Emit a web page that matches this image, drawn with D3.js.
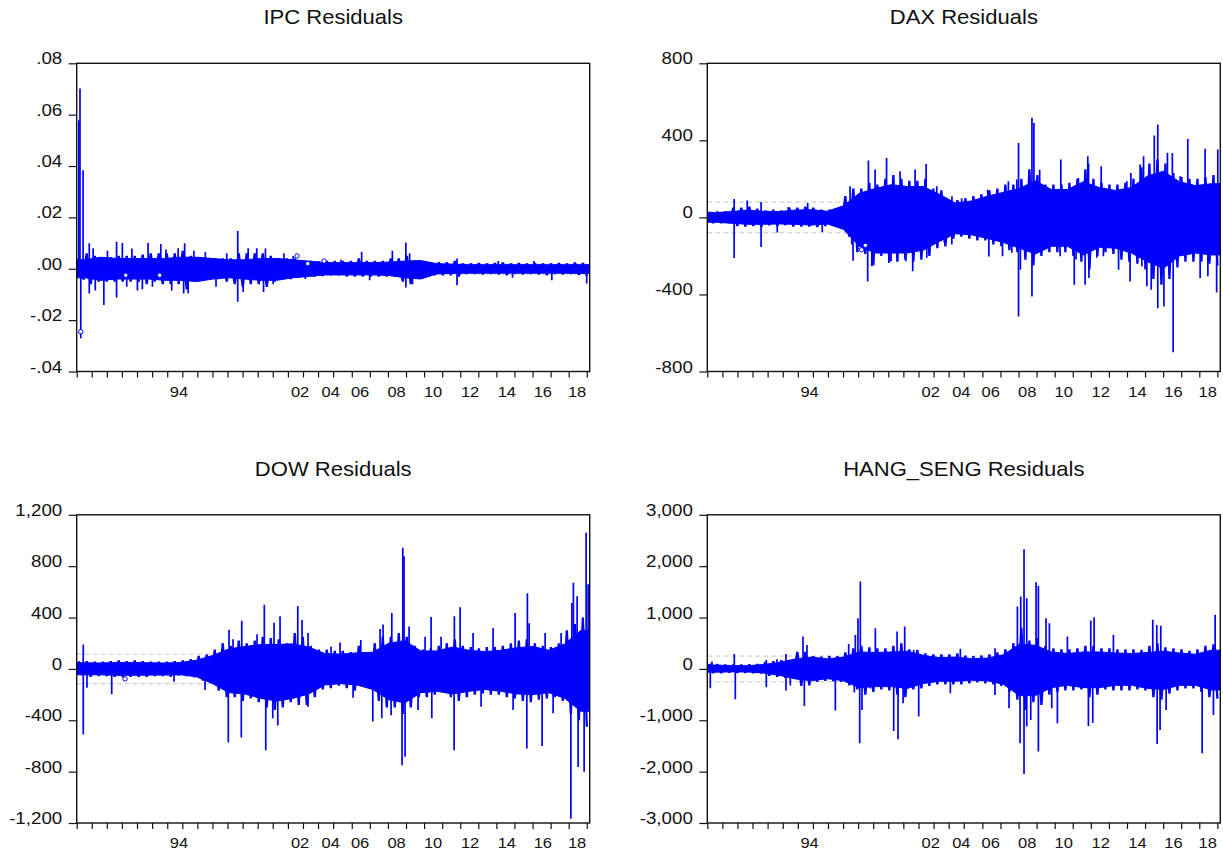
<!DOCTYPE html>
<html><head><meta charset="utf-8">
<script src="https://cdn.jsdelivr.net/npm/d3@7"></script>
<style>
body{margin:0;background:#fff}
svg{display:block;background:#fff}
text{font-family:"Liberation Sans",Arial,Helvetica,sans-serif;fill:#111}
</style>
</head><body>
<svg id="chart" width="1223" height="851"></svg>
<script>
// ---------------- DATA ----------------
const N_OBS = 7180;          // observation index range of the sample
const BIN_OBS = 112;         // width of one outer-envelope bin, in observations
const CORE_BIN_OBS = 224;    // width of one dense-core bin, in observations

// year tick marks (observation index where each year starts, 1987..2018)
const yearTickObs = [0,211,422,633,844,1056,1267,1478,1689,1900,2111,2322,2533,2744,2956,3167,3378,3589,
  3850,4103,4356,4609,4862,5115,5368,5621,5874,6127,6380,6633,6886,7139];
const yearLabels   = ["94","02","04","06","08","10","12","14","16","18"];
const yearLabelObs = [1432,3126,3556,3966,4477,4988,5506,6020,6524,7004];

// ---- IPC ----
const ipcTicks = [-0.04,-0.02,0,0.02,0.04,0.06,0.08];
const ipcTickLabels = ["-.04","-.02",".00",".02",".04",".06",".08"];
const ipcBand = 0.002;
const ipcHi = [0.004,0.006,0.005,0.0045,0.0045,0.005,0.005,0.005,0.0055,0.006,0.006,0.006,0.006,0.007,0.005,0.0045,
  0.004,0.004,0.004,0.004,0.006,0.006,0.006,0.006,0.005,0.004,0.004,0.004,0.003,0.003,0.0028,0.003,
  0.003,0.003,0.003,0.004,0.003,0.003,0.003,0.004,0.004,0.005,0.003,0.0025,0.0025,0.0025,0.0025,0.003,
  0.002,0.002,0.0022,0.002,0.0022,0.0024,0.002,0.0022,0.002,0.0022,0.002,0.002,0.0022,0.002,0.0024,0.0022];
const ipcLo = [-0.004,-0.006,-0.005,-0.005,-0.005,-0.005,-0.005,-0.005,-0.006,-0.005,-0.006,-0.006,-0.006,-0.008,-0.005,-0.0045,
  -0.004,-0.004,-0.005,-0.006,-0.007,-0.006,-0.006,-0.007,-0.005,-0.004,-0.004,-0.0035,-0.003,-0.003,-0.0028,-0.0025,
  -0.0025,-0.003,-0.003,-0.003,-0.003,-0.003,-0.003,-0.003,-0.005,-0.006,-0.003,-0.0025,-0.0025,-0.0025,-0.0025,-0.003,
  -0.002,-0.002,-0.0022,-0.002,-0.0022,-0.0025,-0.002,-0.0022,-0.002,-0.0022,-0.0025,-0.002,-0.0022,-0.002,-0.0024,-0.0028];
const ipcCoreHi = [0.0035,0.0045,0.004,0.004,0.004,0.004,0.0045,0.0045,0.004,0.0035,0.0035,0.004,0.004,0.0035,0.003,0.0024,
  0.0024,0.0024,0.0024,0.0026,0.003,0.0032,0.002,0.0018,0.0016,0.0016,0.0016,0.0016,0.0016,0.0016,0.0016,0.0016];
const ipcCoreLo = [-0.0035,-0.0045,-0.004,-0.004,-0.004,-0.0045,-0.0045,-0.005,-0.004,-0.0035,-0.004,-0.0045,-0.0045,-0.0035,-0.003,-0.0024,
  -0.0024,-0.0024,-0.0024,-0.0026,-0.0035,-0.004,-0.002,-0.0018,-0.0017,-0.0017,-0.0017,-0.0017,-0.0017,-0.0017,-0.0017,-0.0018];
const ipcSpikes = [[30,0.0578],[46,0.0702],[57,-0.0271],[89,0.0384],[100,-0.0044],[176,0.0099],[176,-0.0096],
  [230,0.008],[260,-0.0085],[380,-0.0141],[430,0.007],[558,0.0105],[558,-0.0112],[639,0.010],[700,-0.007],
  [773,0.0079],[850,-0.0085],[919,-0.008],[999,0.010],[1060,-0.007],[1177,0.0096],[1250,0.0075],[1330,-0.0085],
  [1420,0.008],[1497,-0.0096],[1511,0.0099],[1560,-0.0095],[1640,0.007],[1800,0.0065],[1950,-0.007],[2100,0.006],
  [2254,0.0147],[2254,-0.0128],[2330,-0.009],[2400,0.008],[2520,0.008],[2615,-0.009],[2642,0.0079],[2750,-0.006],
  [2900,0.006],[3030,0.005],[3200,-0.004],[3700,0.0035],[3988,0.0066],[4100,-0.0045],[4418,0.007],[4607,0.0102],
  [4607,-0.0073],[4660,0.006],[4700,-0.006],[5323,0.004],[5323,-0.0064],[5900,0.003],[6100,-0.0035],[6400,0.003],
  [6650,-0.0045],[7138,-0.0057]];
const ipcMarkers = [[57,-0.0245],[687,-0.0025],[1161,-0.0025],[3083,0.005],[3234,0.002],[3462,0.003]];

// ---- DAX ----
const daxTicks = [-800,-400,0,400,800];
const daxTickLabels = ["-800","-400","0","400","800"];
const daxBand = 80;
const daxHi = [30,30,30,50,50,55,45,35,40,35,50,50,55,50,40,40,45,110,150,150,180,170,200,220,200,190,190,200,150,140,90,90,
  100,110,120,140,150,170,170,200,250,220,170,170,170,180,200,250,200,180,170,170,180,200,260,280,300,280,230,210,200,200,210,220];
const daxLo = [-30,-30,-30,-45,-47,-45,-50,-40,-45,-40,-47,-47,-47,-50,-45,-40,-50,-100,-180,-190,-250,-200,-230,-230,-220,-230,-220,-200,-160,-150,-110,-100,
  -110,-120,-120,-140,-150,-170,-180,-220,-250,-200,-180,-180,-180,-200,-230,-270,-200,-180,-190,-220,-230,-240,-270,-320,-350,-320,-260,-230,-230,-230,-240,-250];
const daxCoreHi = [25,30,38,32,30,38,40,32,60,125,150,170,160,160,120,75,85,110,130,150,190,145,145,185,155,140,155,215,240,185,165,175];
const daxCoreLo = [-25,-30,-36,-36,-34,-36,-40,-34,-62,-150,-185,-185,-185,-170,-125,-85,-90,-110,-130,-160,-190,-150,-150,-195,-155,-160,-185,-230,-265,-200,-185,-195];
const daxSpikes = [[376,95],[376,-211],[559,88],[753,-154],[753,80],[979,-78],[1134,54],[1405,75],[1609,-76],[1998,162],
  [2022,-141],[2040,-225],[2255,296],[2245,-333],[2302,-254],[2348,249],[2509,309],[2541,-237],[2572,-228],[2698,240],
  [2778,-228],[2875,-280],[2908,249],[3063,277],[3072,-210],[3212,162],[3318,-132],[3328,-136],[3422,-141],[3424,110],
  [3560,100],[3925,144],[3941,-203],[4132,-202],[4214,188],[4262,-184],[4332,197],
  [4356,386],[4356,-515],[4382,-272],[4544,517],[4544,-411],[4571,490],[4652,248],[4938,-202],[4948,301],[5136,-350],
  [5162,-219],[5194,205],[5288,-349],[5325,317],[5336,280],[5341,-315],[5452,-210],[5513,265],[5544,-202],[5756,-272],
  [5872,188],[5917,-333],[5928,231],[6058,275],[6082,-254],[6106,317],[6152,-358],[6256,425],[6213,-376],[6305,482],
  [6305,-471],[6391,-463],[6440,335],[6478,-264],[6509,334],[6520,-700],[6618,214],[6725,407],[6898,-314],[6967,357],
  [7006,-305],[7145,352],[7129,-390]];
const daxMarkers = [[2158,-168],[2212,-145]];

// ---- DOW ----
const dowTicks = [-1200,-800,-400,0,400,800,1200];
const dowTickLabels = ["-1,200","-800","-400","0","400","800","1,200"];
const dowBand = 115;
const dowHi = [60,60,55,55,60,65,60,65,60,55,55,55,60,65,75,100,110,150,200,180,220,200,220,250,240,230,200,280,250,180,150,150,
  140,140,130,180,120,200,250,250,280,250,180,150,160,180,200,230,180,170,160,170,170,180,200,220,230,200,180,170,200,300,350,400];
const dowLo = [-50,-60,-55,-55,-60,-65,-60,-60,-60,-55,-55,-60,-50,-55,-65,-90,-110,-170,-220,-220,-250,-230,-260,-300,-320,-300,-260,-280,-280,-220,-160,-150,
  -130,-150,-170,-140,-150,-250,-300,-300,-350,-300,-220,-220,-200,-180,-220,-250,-220,-200,-190,-200,-200,-220,-230,-250,-260,-240,-230,-220,-250,-350,-400,-450];
const dowCoreHi = [48,46,50,50,48,46,50,68,105,155,175,190,190,195,170,120,115,125,130,200,220,140,140,170,145,135,145,165,175,145,195,300];
const dowCoreLo = [-46,-46,-50,-50,-48,-48,-46,-62,-115,-185,-195,-230,-250,-230,-195,-125,-115,-125,-160,-240,-265,-185,-175,-195,-175,-160,-175,-195,-200,-185,-230,-330];
const dowSpikes = [[92,190],[92,-510],[144,-146],[490,-198],[1362,-100],[1796,-165],[2132,305],[2122,-573],[2188,230],
  [2310,375],[2304,-534],[2524,270],[2626,500],[2646,-633],[2762,360],[2744,-385],[2846,410],[2814,-440],[3094,490],
  [3154,380],[3238,280],[3238,-295],[3560,175],[3686,205],[3868,-225],[3976,225],[4144,-410],[4246,310],[4288,345],
  [4270,-385],[4410,435],[4400,-360],[4564,943],[4582,877],[4554,-750],[4596,-685],[4652,330],[4778,-320],[4876,250],
  [4970,-385],[4960,404],[5100,250],[5286,410],[5282,-633],[5366,480],[5548,280],[5660,-295],[5828,318],[6136,435],
  [6108,-320],[6308,590],[6300,-620],[6332,355],[6514,-600],[6556,280],[6668,-345],[6780,280],[6930,513],[6952,670],
  [6916,-1166],[7004,565],[7018,-763],[7130,1060],[7102,-800],[7158,660]];
const dowMarkers = [[676,-78]];

// ---- HANG_SENG ----
const hsTicks = [-3000,-2000,-1000,0,1000,2000,3000];
const hsTickLabels = ["-3,000","-2,000","-1,000","0","1,000","2,000","3,000"];
const hsBand = 250;
const hsHi = [100,90,80,80,80,85,90,130,150,170,170,330,330,250,240,250,250,320,400,450,420,400,400,450,500,380,370,300,280,280,280,300,
  260,250,260,280,320,380,500,800,550,600,450,400,380,380,400,450,450,400,400,380,380,380,370,450,500,420,400,380,350,380,450,480];
const hsLo = [-80,-80,-70,-75,-75,-80,-85,-130,-150,-170,-170,-330,-320,-250,-230,-240,-250,-320,-400,-500,-450,-400,-420,-500,-550,-400,-380,-330,-300,-300,-300,-300,
  -280,-260,-280,-300,-330,-450,-600,-800,-650,-700,-500,-450,-420,-420,-400,-550,-500,-400,-420,-420,-420,-400,-420,-550,-600,-480,-420,-380,-380,-450,-550,-580];
const hsCoreHi = [75,65,62,85,125,195,230,195,230,330,320,330,345,265,220,230,200,210,275,480,460,330,300,330,330,310,300,320,345,310,285,365];
const hsCoreLo = [-63,-58,-60,-80,-125,-195,-230,-190,-230,-365,-345,-345,-380,-285,-240,-240,-220,-230,-300,-520,-520,-365,-320,-365,-365,-320,-320,-380,-400,-320,-320,-410];
const hsSpikes = [[42,-377],[65,143],[378,292],[392,-591],[826,175],[826,-357],[975,188],[1101,292],[1101,-422],
  [1162,-325],[1325,-240],[1339,630],[1358,-721],[1395,467],[1792,-812],[1979,487],[2058,-461],[2072,662],[2109,987],
  [2142,1701],[2133,-1448],[2165,-800],[2282,-380],[2352,792],[2609,-1208],[2656,727],[2670,-1370],[2740,-669],
  [2763,825],[2889,370],[2959,-929],[3402,-474],[3542,390],[4027,403],[4027,-507],[4223,-766],[4340,1214],[4377,-1448],
  [4387,1409],[4433,2331],[4433,-2046],[4471,1377],[4471,-1123],[4527,-994],[4601,1688],[4634,1617],[4634,-1610],
  [4741,987],[4788,890],[4821,-766],[4900,-1059],[5040,630],[5334,-1110],[5367,942],[5395,-1046],[5414,1007],[5684,662],
  [6235,955],[6291,857],[6296,-1461],[6337,-1188],[6347,838],[6422,-799],[6926,-1643],[7084,-896],[7108,1052]];
const hsMarkers = [];

// ---------------- LAYOUT ----------------
const panels = [
  {title:"IPC Residuals", left:76.7, top:63.3, ticks:ipcTicks, labels:ipcTickLabels, hi:ipcHi, lo:ipcLo, coreHi:ipcCoreHi, coreLo:ipcCoreLo, spikes:ipcSpikes, markers:ipcMarkers, band:ipcBand},
  {title:"DAX Residuals", left:707.3, top:63.3, ticks:daxTicks, labels:daxTickLabels, hi:daxHi, lo:daxLo, coreHi:daxCoreHi, coreLo:daxCoreLo, spikes:daxSpikes, markers:daxMarkers, band:daxBand},
  {title:"DOW Residuals", left:76.7, top:514.8, ticks:dowTicks, labels:dowTickLabels, hi:dowHi, lo:dowLo, coreHi:dowCoreHi, coreLo:dowCoreLo, spikes:dowSpikes, markers:dowMarkers, band:dowBand},
  {title:"HANG_SENG Residuals", left:707.3, top:514.8, ticks:hsTicks, labels:hsTickLabels, hi:hsHi, lo:hsLo, coreHi:hsCoreHi, coreLo:hsCoreLo, spikes:hsSpikes, markers:hsMarkers, band:hsBand}
];
const W = 513, H = 308.2;
const BLUE = "#0000ff";

const svg = d3.select("#chart");

function stretchedText(g, x, y, str, size, anchor, sx){
  return g.append("text")
    .attr("transform", `translate(${x},${y}) scale(${sx},1)`)
    .attr("text-anchor", anchor)
    .style("font-size", size + "px")
    .text(str);
}

panels.forEach((p, pi) => {
  const g = svg.append("g").attr("transform", `translate(${p.left},${p.top})`);
  const x = d3.scaleLinear().domain([0, N_OBS]).range([0, W]);
  const y = d3.scaleLinear().domain([p.ticks[0], p.ticks[p.ticks.length-1]]).range([H, 0]);

  const clipId = "clip" + pi;
  g.append("clipPath").attr("id", clipId).append("rect").attr("width", W).attr("height", H);
  const plot = g.append("g").attr("clip-path", `url(#${clipId})`);

  // dashed reference band
  [p.band, -p.band].forEach(v => {
    plot.append("line").attr("x1", 0).attr("x2", W).attr("y1", y(v)).attr("y2", y(v))
      .attr("stroke", "#c4c4c4").attr("stroke-width", 1).attr("stroke-dasharray", "5,3");
  });

  // outer envelope: the residual line swinging between each bin's high and low
  const zig = [];
  p.hi.forEach((h, i) => {
    const c = BIN_OBS * i + BIN_OBS / 2;
    zig.push([c - BIN_OBS / 4, h]);
    zig.push([c + BIN_OBS / 4, p.lo[i]]);
  });
  const line = d3.line().x(d => x(d[0])).y(d => y(d[1]));
  plot.append("path").attr("d", line(zig)).attr("fill", "none")
    .attr("stroke", BLUE).attr("stroke-width", 2.3).attr("stroke-linejoin", "bevel");

  // dense core of the series
  const pts = p.coreHi.map((h, i) => ({o: CORE_BIN_OBS * i + CORE_BIN_OBS / 2, hi: h, lo: p.coreLo[i]}));
  pts.unshift({o: 0, hi: p.coreHi[0], lo: p.coreLo[0]});
  pts.push({o: N_OBS, hi: p.coreHi[p.coreHi.length-1], lo: p.coreLo[p.coreLo.length-1]});
  const area = d3.area().x(d => x(d.o)).y0(d => y(d.lo)).y1(d => y(d.hi));
  plot.append("path").attr("d", area(pts)).attr("fill", BLUE).attr("stroke", BLUE).attr("stroke-width", 1);

  // individual spikes
  plot.selectAll("line.spk").data(p.spikes).enter().append("line").attr("class", "spk")
    .attr("x1", d => x(d[0])).attr("x2", d => x(d[0]))
    .attr("y1", y(0)).attr("y2", d => y(d[1]))
    .attr("stroke", BLUE).attr("stroke-width", 1.7);

  // isolated point markers
  plot.selectAll("circle").data(p.markers).enter().append("circle")
    .attr("cx", d => x(d[0])).attr("cy", d => y(d[1])).attr("r", 2.2)
    .attr("fill", "#fff").attr("stroke", BLUE).attr("stroke-width", 1);

  // frame
  g.append("rect").attr("width", W).attr("height", H)
    .attr("fill", "none").attr("stroke", "#111").attr("stroke-width", 1.4);

  // y axis ticks
  const yAxis = d3.axisLeft(y).tickValues(p.ticks).tickSize(8).tickFormat("");
  const ya = g.append("g").call(yAxis);
  ya.select(".domain").remove();
  ya.selectAll(".tick line").attr("stroke", "#111").attr("stroke-width", 1.2);
  p.ticks.forEach((t, i) => stretchedText(g, -14.5, y(t) + 1, p.labels[i], 16, "end", 1.17));

  // x axis ticks
  const xAxis = d3.axisBottom(x).tickValues(yearTickObs).tickSize(6).tickFormat("");
  const xa = g.append("g").attr("transform", `translate(0,${H})`).call(xAxis);
  xa.select(".domain").remove();
  xa.selectAll(".tick line").attr("stroke", "#111").attr("stroke-width", 1.2);
  yearLabels.forEach((lab, i) => stretchedText(g, x(yearLabelObs[i]), H + 25, lab, 15, "middle", 1.1));

  // title
  stretchedText(g, W / 2, -39.3, p.title, 21, "middle", 1.05);
});
</script>
</body></html>
